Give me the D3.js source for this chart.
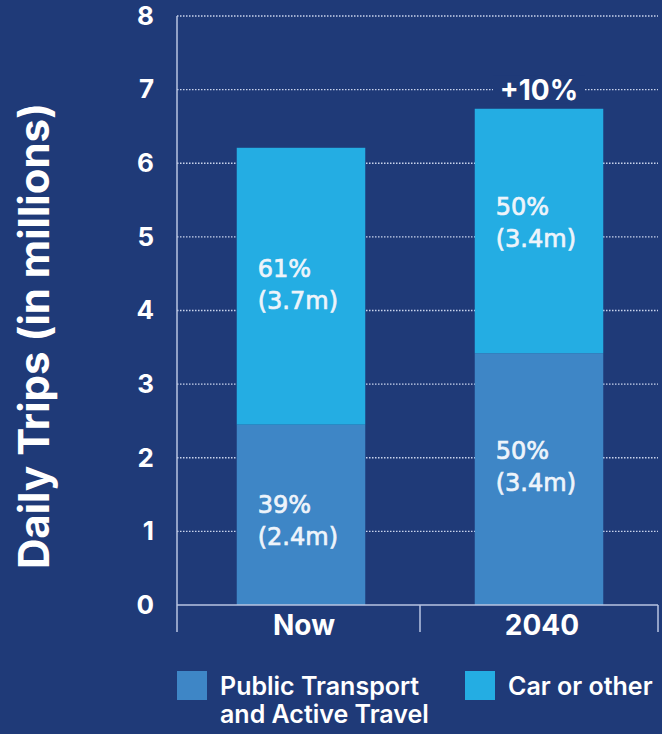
<!DOCTYPE html>
<html>
<head>
<meta charset="utf-8">
<script src="https://cdn.jsdelivr.net/npm/d3@7"></script>
<style>
  html, body { margin: 0; padding: 0; background: #1f3a78; }
  svg { display: block; font-family: Inter, "Open Sans", sans-serif; }
</style>
</head>
<body>
<svg id="chart" width="662" height="734"></svg>
<script>
// data
const categories = ['Now', '2040'];
const publicTransport = [2.45, 3.42];
const carOther = [3.76, 3.32];
const publicLabels = [['39%', '(2.4m)'], ['50%', '(3.4m)']];
const carLabels = [['61%', '(3.7m)'], ['50%', '(3.4m)']];
const yTicks = [0, 1, 2, 3, 4, 5, 6, 7, 8];
const growthLabel = '+10%';
const seriesNames = ['Public Transport\nand Active Travel', 'Car or other'];

const colors = { public: '#3e86c6', car: '#24ade3', bg: '#1f3a78', axis: '#b9c5e2', text: '#ffffff' };

const svg = d3.select('#chart');

const axisX = 177;       // y axis line position
const plotRight = 658;

const y = d3.scaleLinear().domain([0, 8]).range([605, 16]);

const x = d3.scaleBand()
  .domain(categories)
  .range([182, 658])
  .paddingInner(0.46)
  .paddingOuter(0.23);

// gridlines (dotted)
svg.append('g')
  .selectAll('line')
  .data(yTicks.filter(d => d > 0))
  .enter().append('line')
  .attr('x1', axisX)
  .attr('x2', plotRight)
  .attr('y1', d => y(d))
  .attr('y2', d => y(d))
  .attr('stroke', '#c9d3ec')
  .attr('stroke-width', 1.3)
  .attr('stroke-dasharray', '1.5,1.5');

// stacked bars
const stacked = categories.map((c, i) => ({ cat: c, pub: publicTransport[i], car: carOther[i] }));

svg.selectAll('.bar-pub')
  .data(stacked)
  .enter().append('rect')
  .attr('class', 'bar-pub')
  .attr('x', d => x(d.cat))
  .attr('width', x.bandwidth())
  .attr('y', d => y(d.pub))
  .attr('height', d => y(0) - y(d.pub))
  .attr('fill', colors.public);

svg.selectAll('.bar-car')
  .data(stacked)
  .enter().append('rect')
  .attr('class', 'bar-car')
  .attr('x', d => x(d.cat))
  .attr('width', x.bandwidth())
  .attr('y', d => y(d.pub + d.car))
  .attr('height', d => y(d.pub) - y(d.pub + d.car))
  .attr('fill', colors.car);

// two-line labels inside the bar segments, block centred on cy
function addLabel(lines, left, cy) {
  const t = svg.append('text')
    .attr('x', left)
    .attr('y', cy - 7.5)
    .attr('fill', '#eef4fb')
    .attr('stroke', '#eef4fb')
    .attr('stroke-width', 0.7)
    .attr('font-family', '"DejaVu Sans", sans-serif')
    .attr('font-size', 24);
  lines.forEach((l, k) => {
    t.append('tspan').attr('x', left).attr('dy', k === 0 ? 0 : 32).text(l);
  });
}

// small nudges so the text sits where it does in the original
const carShift = [-2, -8];
const pubShift = [6, -13];

stacked.forEach((d, i) => {
  const left = x(d.cat) + 21;
  const carMid = (y(d.pub) + y(d.pub + d.car)) / 2;
  addLabel(carLabels[i], left, carMid + carShift[i]);
  const pubMid = (y(0) + y(d.pub)) / 2;
  addLabel(publicLabels[i], left, pubMid + pubShift[i]);
});

// growth label over 2040 bar, masking the gridline
const gx = x('2040') + x.bandwidth() / 2;
const gy = y(7);
svg.append('rect')
  .attr('x', gx - 46)
  .attr('y', gy - 14)
  .attr('width', 92)
  .attr('height', 28)
  .attr('fill', colors.bg);
svg.append('text')
  .attr('x', gx)
  .attr('y', gy + 10)
  .attr('text-anchor', 'middle')
  .attr('fill', colors.text)
  .attr('font-size', 28)
  .attr('font-weight', 700)
  .text(growthLabel);

// y axis
const yAxis = d3.axisLeft(y).tickValues(yTicks).tickSize(0).tickPadding(23);
const gy0 = svg.append('g')
  .attr('transform', `translate(${axisX},0)`)
  .call(yAxis);
gy0.select('.domain').remove();
gy0.selectAll('text')
  .attr('fill', colors.text)
  .attr('font-size', 26)
  .attr('font-weight', 700)
  .attr('font-family', 'Inter, sans-serif');

svg.append('line')
  .attr('x1', axisX).attr('x2', axisX)
  .attr('y1', y(8)).attr('y2', 632)
  .attr('stroke', colors.axis)
  .attr('stroke-width', 1.5);

// x axis
svg.append('line')
  .attr('x1', axisX).attr('x2', plotRight)
  .attr('y1', y(0)).attr('y2', y(0))
  .attr('stroke', colors.axis)
  .attr('stroke-width', 1.5);

svg.selectAll('.xtick')
  .data([(x('Now') + x('2040') + x.bandwidth()) / 2, plotRight])
  .enter().append('line')
  .attr('class', 'xtick')
  .attr('x1', d => d).attr('x2', d => d)
  .attr('y1', y(0)).attr('y2', 632)
  .attr('stroke', colors.axis)
  .attr('stroke-width', 1.5);

const xAxis = d3.axisBottom(x).tickSize(0).tickPadding(10);
const gx0 = svg.append('g')
  .attr('transform', `translate(3,${y(0)})`)
  .call(xAxis);
gx0.select('.domain').remove();
gx0.selectAll('text')
  .attr('fill', colors.text)
  .attr('font-size', 28)
  .attr('font-weight', 700)
  .attr('font-family', 'Inter, sans-serif');

// y axis title
svg.append('text')
  .attr('transform', 'translate(49,336) rotate(-90)')
  .attr('text-anchor', 'middle')
  .attr('fill', colors.text)
  .attr('font-size', 42)
  .attr('font-weight', 700)
  .text('Daily Trips (in millions)');

// legend
const legend = [
  { name: seriesNames[0], color: colors.public, x: 177 },
  { name: seriesNames[1], color: colors.car, x: 465 }
];
legend.forEach(l => {
  svg.append('rect')
    .attr('x', l.x).attr('y', 671)
    .attr('width', 30).attr('height', 29)
    .attr('fill', l.color);
  const t = svg.append('text')
    .attr('x', l.x + 43)
    .attr('y', 695)
    .attr('fill', colors.text)
    .attr('font-size', 25)
    .attr('font-weight', 600);
  l.name.split('\n').forEach((s, k) => {
    t.append('tspan').attr('x', l.x + 43).attr('dy', k === 0 ? 0 : 28).text(s);
  });
});
</script>
</body>
</html>
